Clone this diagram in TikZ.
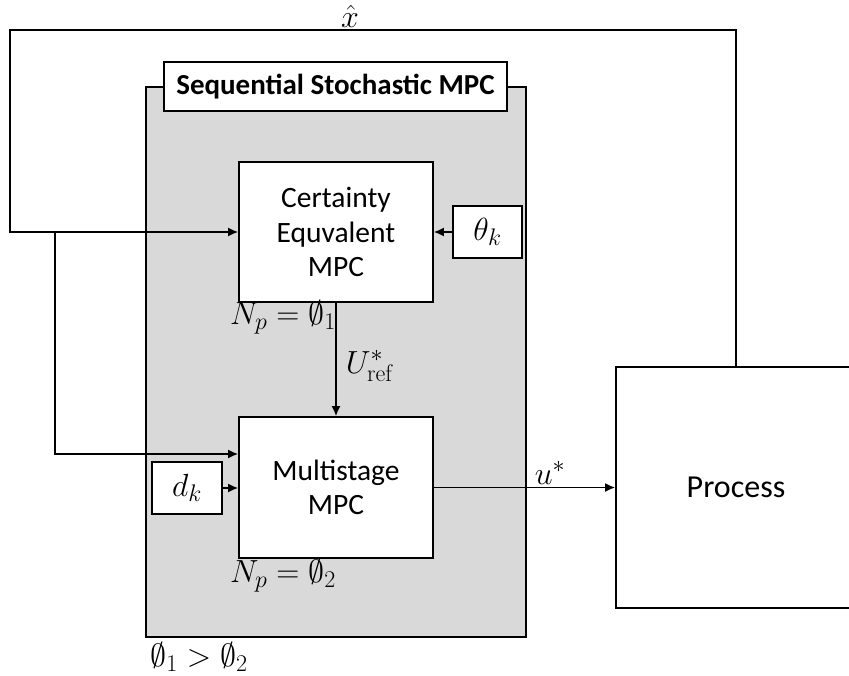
\documentclass[tikz,border=0pt]{standalone}
\usepackage{fix-cm}
\usepackage[no-math]{fontspec}
\setmainfont{Carlito}
\usetikzlibrary{arrows.meta}
\DeclareMathSizes{32}{32}{24}{18}
\begin{document}
\begin{tikzpicture}[x=1pt,y=-1pt,
  box/.style={draw=black, line width=1.6pt, fill=white, inner sep=0pt, align=center,
    font=\fontsize{29.5}{34.5}\selectfont},
  arr/.style={line width=1.8pt, -{Latex[length=10pt,width=9pt]}},
  lbl/.style={inner sep=0pt, font=\fontsize{32}{38}\selectfont}]
\clip (0,0) rectangle (849,675);
\fill[white] (0,0) rectangle (849,675);
% outer gray container
\node[draw=black, line width=1.6pt, fill=gray!30, minimum width=380pt, minimum height=550pt, inner sep=0pt] (ssmpc) at (336,362) {};
\node[box, minimum width=343pt, minimum height=49pt, font=\bfseries\fontsize{29}{34}\selectfont] (title) at (335.5,86.5) {Sequential Stochastic MPC};
% blocks
\node[box, minimum width=194pt, minimum height=140pt] (ce) at (336,232) {Certainty\\Equvalent\\MPC};
\node[box, minimum width=194pt, minimum height=141pt] (ms) at (336,487.5) {Multistage\\MPC};
\node[box, minimum width=69pt, minimum height=52pt, font=\fontsize{32}{38}\selectfont] (theta) at (487.5,232) {$\theta_k$};
\node[box, minimum width=70pt, minimum height=52pt, font=\fontsize{32}{38}\selectfont] (dk) at (187,488) {$d_k$};
\node[box, minimum width=240pt, minimum height=241pt, font=\fontsize{32}{38}\selectfont] (proc) at (736,487.5) {Process};
% feedback path
\coordinate (tr) at (736,30);
\coordinate (tl) at (10,30);
\coordinate (bl) at (10,232);
\coordinate (br) at (55,232);
\coordinate (bb) at (55,454);
\draw[arr] (proc.north) -- (tr) -- (tl) -- (bl) -- (ce.west);
\draw[arr] (br) -- (bb) -- (ms.west |- bb);
% internal connections
\draw[arr] (theta.west) -- (ce.east);
\draw[arr] (ce.south) -- (ms.north);
\draw[arr] (dk.east) -- (dk.east -| ms.west);
\draw[arr] (ms.east) -- (proc.west);
% labels
\node[lbl] (xh) at (350,16) {$\hat{x}$};
\node[lbl] (np1) at (283,317) {$N_p=\emptyset_1$};
\node[lbl] (uref) at (370,366) {$U^*_{\mathrm{ref}}$};
\node[lbl, anchor=base] (us) at (550,484) {$u^*$};
\node[lbl] (np2) at (283,575) {$N_p=\emptyset_2$};
\node[lbl] (cmp) at (199,657) {$\emptyset_1>\emptyset_2$};
\end{tikzpicture}
\end{document}
